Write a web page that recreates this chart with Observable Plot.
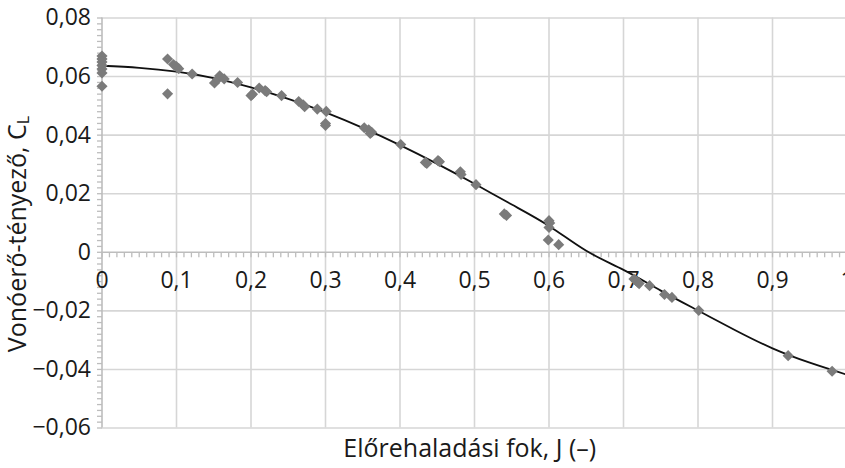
<!DOCTYPE html>
<html>
<head>
<meta charset="utf-8">
<script src="https://cdn.jsdelivr.net/npm/d3@7"></script>
<script src="https://cdn.jsdelivr.net/npm/@observablehq/plot@0.6"></script>
<style>
  body { margin: 0; background: #fff; }
  #chart svg { font-family: "Open Sans", "Noto Sans", sans-serif; }
</style>
</head>
<body>
<div id="chart"></div>
<script>
// Measured advance ratio J and thrust (pull) coefficient C_L
const measuredJ = [
  0, 0, 0, 0, 0, 0, 0,
  0.088, 0.088, 0.096, 0.100, 0.103,
  0.121,
  0.151, 0.155, 0.158, 0.164,
  0.182,
  0.200, 0.202,
  0.211, 0.219, 0.221,
  0.241,
  0.264, 0.270, 0.272,
  0.289,
  0.301, 0.300, 0.300,
  0.352, 0.358, 0.362, 0.360,
  0.401,
  0.434, 0.436,
  0.451, 0.453,
  0.481, 0.482,
  0.502,
  0.540, 0.543,
  0.600, 0.601, 0.600, 0.599,
  0.613,
  0.714, 0.717, 0.719, 0.721,
  0.735,
  0.755, 0.765,
  0.801,
  0.921,
  0.980
];
const measuredCL = [
  0.0670, 0.0660, 0.0650, 0.0638, 0.0626, 0.0612, 0.0567,
  0.0660, 0.0541, 0.0641, 0.0634, 0.0627,
  0.0609,
  0.0578, 0.0590, 0.0603, 0.0592,
  0.0580,
  0.0535, 0.0540,
  0.0561, 0.0552, 0.0548,
  0.0535,
  0.0515, 0.0504, 0.0497,
  0.0489,
  0.0481, 0.0440, 0.0433,
  0.0425, 0.0418, 0.0410, 0.0406,
  0.0368,
  0.0307, 0.0303,
  0.0313, 0.0309,
  0.0275, 0.0266,
  0.0231,
  0.0131, 0.0126,
  0.0108, 0.0100, 0.0085, 0.0042,
  0.0026,
  -0.0091, -0.0097, -0.0102, -0.0107,
  -0.0114,
  -0.0144, -0.0154,
  -0.0199,
  -0.0353,
  -0.0406
];

// Fitted trend curve
const fitJ  = [0, 0.05, 0.1, 0.15, 0.2, 0.25, 0.3, 0.35, 0.4, 0.45, 0.5, 0.55, 0.6, 0.65, 0.7, 0.75, 0.8, 0.85, 0.9, 0.95, 1.0];
const fitCL = [0.0637, 0.0630, 0.0617, 0.0595, 0.0563, 0.0524, 0.0478, 0.0425, 0.0366, 0.0302, 0.0234, 0.0163, 0.0090, 0.0005, -0.0060, -0.0131, -0.0199, -0.0266, -0.0328, -0.0377, -0.0418];

// Axis ticks and labels
const xTicks = [0, 0.1, 0.2, 0.3, 0.4, 0.5, 0.6, 0.7, 0.8, 0.9, 1];
const xTickLabels = ["0", "0,1", "0,2", "0,3", "0,4", "0,5", "0,6", "0,7", "0,8", "0,9", "1"];
const yTicks = [-0.06, -0.04, -0.02, 0, 0.02, 0.04, 0.06, 0.08];
const yTickLabels = ["\u22120,06", "\u22120,04", "\u22120,02", "0", "0,02", "0,04", "0,06", "0,08"];
const xTitle = "Előrehaladási fok, J (–)";
const yTitle = "Vonóerő-tényező, C";
const yTitleSub = "L";

const measured = measuredJ.map((J, i) => ({J, CL: measuredCL[i]}));
const fit = fitJ.map((J, i) => ({J, CL: fitCL[i]}));

// minor tick positions along the axes
const xMinor = d3.range(0, 101).map(i => i / 100);
const yMinor = d3.range(-30, 41).map(i => +(i * 0.002).toFixed(3));

// short tick glyphs: hanging below the x axis, sticking left of the y axis
const vTick = {draw(ctx) { ctx.moveTo(0, 0); ctx.lineTo(0, 5); }};
const hTick = {draw(ctx) { ctx.moveTo(-5, 0); ctx.lineTo(0, 0); }};

const grid = "#d6d6d6";
const axisGray = "#bdbdbd";
const fs = 23;      // tick labels
const fsTitle = 25; // axis titles

const plot = Plot.plot({
  width: 845,
  height: 468,
  marginLeft: 101.5,
  marginRight: 0,
  marginTop: 17.5,
  marginBottom: 40.5,
  x: {domain: [0, 1], range: [101.5, 846.5], axis: null},
  y: {domain: [-0.06, 0.08], axis: null},
  marks: [
    Plot.ruleX(xTicks.filter(d => d > 0), {stroke: grid, strokeWidth: 1.6}),
    Plot.ruleY(yTicks.filter(d => d !== 0), {stroke: grid, strokeWidth: 1.6}),
    Plot.ruleX([0], {stroke: axisGray, strokeWidth: 1.6}),
    Plot.ruleY([0], {stroke: axisGray, strokeWidth: 1.6}),
    Plot.dot(xMinor, {x: d => d, y: () => 0, symbol: vTick, stroke: axisGray, strokeWidth: 1.3, fill: "none"}),
    Plot.dot(yMinor, {x: () => 0, y: d => d, symbol: hTick, stroke: axisGray, strokeWidth: 1.3, fill: "none"}),
    Plot.text(xTicks, {x: d => d, y: () => 0, text: (d, i) => xTickLabels[i], dy: 28, fontSize: fs, fill: "#1a1a1a"}),
    Plot.text(yTicks, {x: () => 0, y: d => d, text: (d, i) => yTickLabels[i], textAnchor: "end", dx: -11, fontSize: fs, fill: "#1a1a1a"}),
    Plot.line(fit, {x: "J", y: "CL", curve: "natural", stroke: "#111", strokeWidth: 1.8}),
    Plot.dot(measured, {x: "J", y: "CL", symbol: "diamond2", r: 5, fill: "#7b7b7b", stroke: "none"}),
    Plot.text([xTitle], {frameAnchor: "bottom", lineAnchor: "middle", dx: -4, dy: 21, fontSize: fsTitle, fill: "#1a1a1a"})
  ]
});

// rotated y-axis title with subscript
const svg = d3.select(plot);
const title = svg.append("text")
  .attr("transform", "translate(19,234) rotate(-90)")
  .attr("text-anchor", "middle")
  .attr("dominant-baseline", "middle")
  .attr("font-size", fsTitle)
  .attr("fill", "#1a1a1a");
title.append("tspan").text(yTitle);
title.append("tspan").attr("font-size", 16).attr("dy", 6).text(yTitleSub);

document.getElementById("chart").appendChild(plot);
</script>
</body>
</html>
